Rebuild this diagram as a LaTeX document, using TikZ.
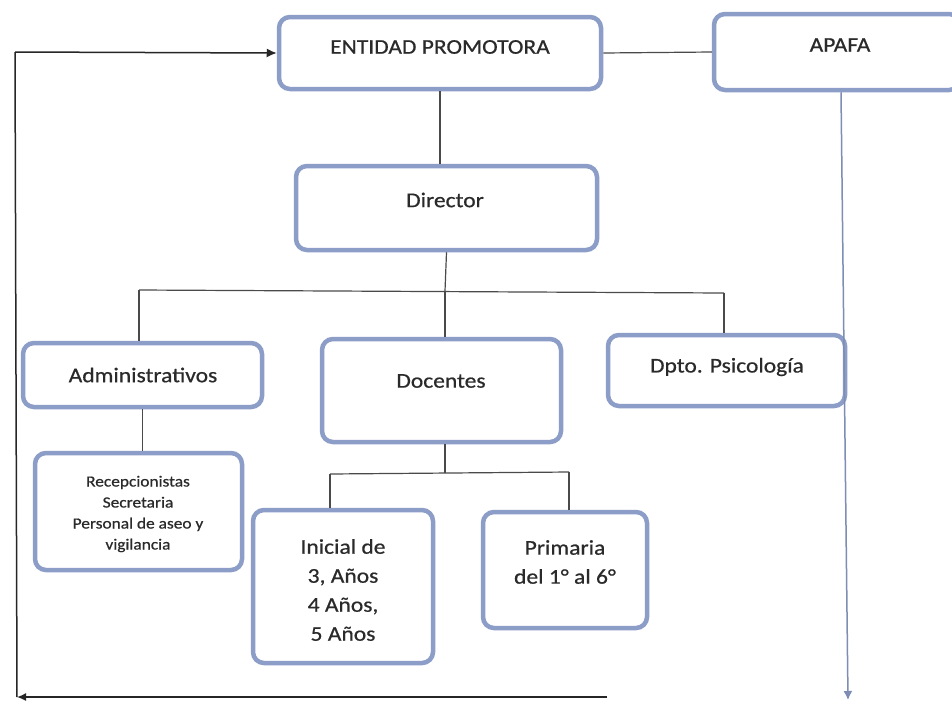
\documentclass[tikz,border=0pt]{standalone}
\usepackage{fontspec}
\setmainfont{Carlito}[FakeStretch=1.12,FakeBold=0.6]
\usetikzlibrary{arrows.meta}
\definecolor{boxblue}{HTML}{8C9DC8}
\definecolor{txtgray}{HTML}{2A2A2A}
\definecolor{conngray}{HTML}{4A4A4A}
\definecolor{arrblue}{HTML}{7D8DB3}
\tikzset{
  orgbox/.style={draw=boxblue, line width=4.5pt, rounded corners=11pt, fill=white, inner sep=0pt},
  lbl/.style={text=txtgray, align=center, inner sep=0pt, font=\fontsize{21}{29}\selectfont},
  smalllbl/.style={text=txtgray, align=center, inner sep=0pt, font=\fontsize{15.5}{21}\selectfont},
  conn/.style={draw=conngray, line width=1.2pt},
  loopline/.style={draw=black!85, line width=1.5pt},
}
\begin{document}
\begin{tikzpicture}[x=1pt,y=-1pt]
\clip (0,0) rectangle (952,702);
\fill[white] (0,0) rectangle (952,702);
% boxes
\node[orgbox, minimum width=322pt, minimum height=72pt] (ent) at (440,53) {};
\node[orgbox, minimum width=246pt, minimum height=76pt] (apafa) at (837,52) {};
\node[orgbox, minimum width=301pt, minimum height=84pt] (dir) at (446.5,208) {};
\node[orgbox, minimum width=239pt, minimum height=64pt] (adm) at (142.5,375) {};
\node[orgbox, minimum width=239pt, minimum height=103pt] (doc) at (441.5,390.5) {};
\node[orgbox, minimum width=237pt, minimum height=71pt] (psi) at (726.5,370.5) {};
\node[orgbox, minimum width=207pt, minimum height=117pt] (rec) at (138.5,511.5) {};
\node[orgbox, minimum width=180pt, minimum height=153pt] (ini) at (343,586.5) {};
\node[orgbox, minimum width=164pt, minimum height=116pt] (pri) at (565,570) {};
% texts
\node[lbl] (tent) at (440,47) {ENTIDAD PROMOTORA};
\node[lbl] (tapafa) at (840,45) {APAFA};
\node[lbl] (tdir) at (445,200) {Director};
\node[lbl] (tadm) at (143,375) {Administrativos};
\node[lbl] (tdoc) at (441,381) {Docentes};
\node[lbl] (tpsi) at (727,367) {Dpto. Psicología};
\node[smalllbl] (trec) at (138,514) {Recepcionistas\\Secretaria\\Personal de aseo y\\vigilancia};
\node[lbl] (tini) at (343,590) {Inicial de\\3, Años\\4 Años,\\5 Años};
\node[lbl] (tpri) at (565,562) {Primaria\\del 1° al 6°};
% coordinates
\coordinate (lt) at (15,52);
\coordinate (lb) at (17,697);
\coordinate (br) at (607,697);
\coordinate (abot) at (848,700);
\coordinate (busL) at (139,290);
\coordinate (busR) at (724,293);
\coordinate (busM) at (445,291);
\coordinate (bus2L) at (330,474);
\coordinate (bus2R) at (569,472);
\coordinate (bus2M) at (445,473);
% connectors
\draw[conn] (ent.east) -- (apafa.west);
\draw[loopline, -{Latex[length=10pt,width=9pt]}] (lt) -- (ent.west);
\draw[loopline] (lt) -- (lb);
\draw[loopline, -{Latex[length=9pt,width=8pt]}] (br) -- (lb);
\draw[draw=arrblue, line width=1.5pt, -{Latex[length=9pt,width=9pt]}] ([xshift=4pt]apafa.south) -- (abot);
\draw[conn] (ent.south) -- (ent.south |- dir.north);
\draw[conn] (dir.south) -- (busM);
\draw[conn] (busL) -- (busR);
\draw[conn] (busL) -- (busL |- adm.north);
\draw[conn] (busM) -- (busM |- doc.north);
\draw[conn] (busR) -- (busR |- psi.north);
\draw[conn] (adm.south) -- (adm.south |- rec.north);
\draw[conn] (doc.south -| bus2M) -- (bus2M);
\draw[conn] (bus2L) -- (bus2R);
\draw[conn] (bus2L) -- (bus2L |- ini.north);
\draw[conn] (bus2R) -- (bus2R |- pri.north);
\end{tikzpicture}
\end{document}
